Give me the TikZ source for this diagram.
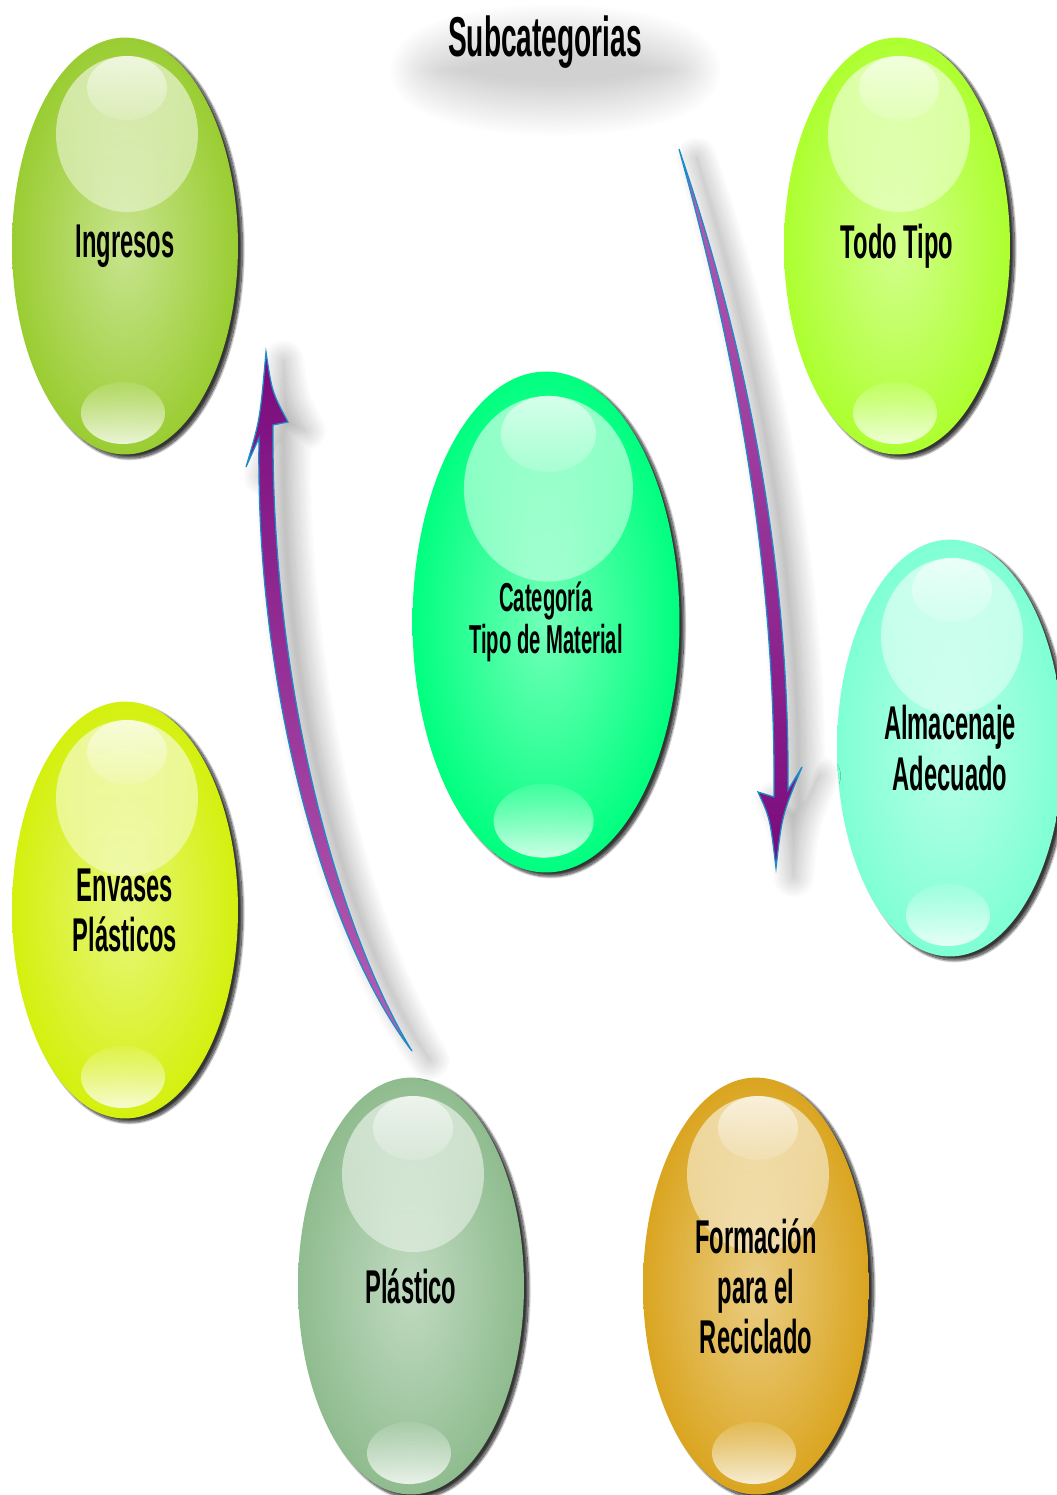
\documentclass[tikz,border=0pt]{standalone}
\usepackage{fontspec}
\newfontfamily\narrowbold{Liberation Sans Bold}[FakeStretch=0.5]
\usetikzlibrary{shapes.geometric,shadows.blur,fadings,calc}

\definecolor{ingresosgreen}{HTML}{9ACD32}
\definecolor{todoyellow}{HTML}{ADFF2F}
\definecolor{catgreen}{HTML}{00FF7F}
\definecolor{almaaqua}{HTML}{7FFFD4}
\definecolor{envaseslime}{HTML}{D4F00E}
\definecolor{plasticosage}{HTML}{8FBC8F}
\definecolor{formaciongold}{HTML}{DAA520}
\definecolor{arrowdark}{HTML}{7A0A7C}
\definecolor{arrowlight}{HTML}{B660B6}
\definecolor{arrowedge}{HTML}{1C8CC8}

\tikzfading[name=glosstop, top color=transparent!40, bottom color=transparent!85]
\tikzfading[name=glossbase, top color=transparent!90, bottom color=transparent!20]

\begin{document}
\begin{tikzpicture}[
  x=0.02cm, y=-0.02cm,
  glossbig/.style={fill=white, path fading=glosstop},
  glosslow/.style={fill=white, path fading=glossbase},
  bubble/.style 2 args={ellipse, inner sep=0pt, minimum width=4.52cm, minimum height=8.34cm,
    align=center, font=\narrowbold\fontsize{27pt}{28.5pt}\selectfont,
    inner color=#1!55!white, outer color=#1,
    blur shadow={shadow xshift=12pt, shadow yshift=-8pt, shadow blur radius=22pt,
      shadow opacity=40, shadow blur steps=24},
    blur shadow={shadow xshift=2.5pt, shadow yshift=-2pt, shadow blur radius=1.5pt, shadow opacity=55},
    path picture={
      \fill[glossbig] ($(path picture bounding box.center)+(2*#2,-112*#2)$) ellipse ({71*#2} and {78*#2});
      \fill[glossbig] ($(path picture bounding box.center)+(2*#2,-158*#2)$) ellipse ({40*#2} and {32*#2});
      \fill[glosslow] ($(path picture bounding box.center)+(-2*#2,167*#2)$) ellipse ({42*#2} and {31*#2});
    }},
  arrowbody/.style={draw=arrowedge, line width=0.7pt,
    blur shadow={shadow xshift=10pt, shadow yshift=-5pt, shadow blur radius=12pt,
      shadow opacity=35, shadow blur steps=24}}
]
\useasboundingbox (0,0) rectangle (1057,1495);
\clip (0,0) rectangle (1057,1495);

\node[font=\narrowbold\fontsize{32pt}{34pt}\selectfont, ellipse, inner sep=1pt,
  blur shadow={shadow xshift=6pt, shadow yshift=-16pt, shadow blur radius=16pt,
    shadow opacity=18, shadow blur steps=24}]
  (titulo) at (545,42) {Subcategorias};

\node[bubble={ingresosgreen}{1}] (ingresos) at (125,246) {Ingresos};
\node[bubble={todoyellow}{1}] (todotipo) at (897,246) {Todo Tipo};
\node[bubble={catgreen}{1.19}, minimum width=5.34cm, minimum height=10.02cm,
  font=\narrowbold\fontsize{23pt}{24pt}\selectfont] (categoria) at (546,622) {Categoría\\Tipo de Material};
\node[bubble={almaaqua}{1}] (almacenaje) at (950,748) {Almacenaje\\Adecuado};
\node[bubble={envaseslime}{1}] (envases) at (125,910) {Envases\\Plásticos};
\node[bubble={plasticosage}{1}] (plastico) at (411,1286) {Plástico};
\node[bubble={formaciongold}{1}] (formacion) at (756,1286) {Formación\\para el\\Reciclado};

% curved arrows
\coordinate (upTail) at (412,1051);
\coordinate (upTip) at (266,352);
\path[arrowbody, top color=arrowdark, bottom color=arrowlight]
  (upTail) .. controls (330,945) and (255,700) .. (259,438)
  -- (246,467) .. controls (260,420) .. (upTip)
  .. controls (272,392) .. (288,422)
  -- (273,425) .. controls (271,700) and (344,940) .. (upTail) -- cycle;

\coordinate (downTail) at (679,149);
\coordinate (downTip) at (776,868);
\path[arrowbody, top color=arrowlight, bottom color=arrowdark]
  (downTail) .. controls (741,330) and (790,550) .. (788,790)
  -- (802,767) .. controls (782,815) .. (downTip)
  .. controls (770,818) .. (758,792)
  -- (774,797) .. controls (776,550) and (729,330) .. (downTail) -- cycle;

\end{tikzpicture}
\end{document}
